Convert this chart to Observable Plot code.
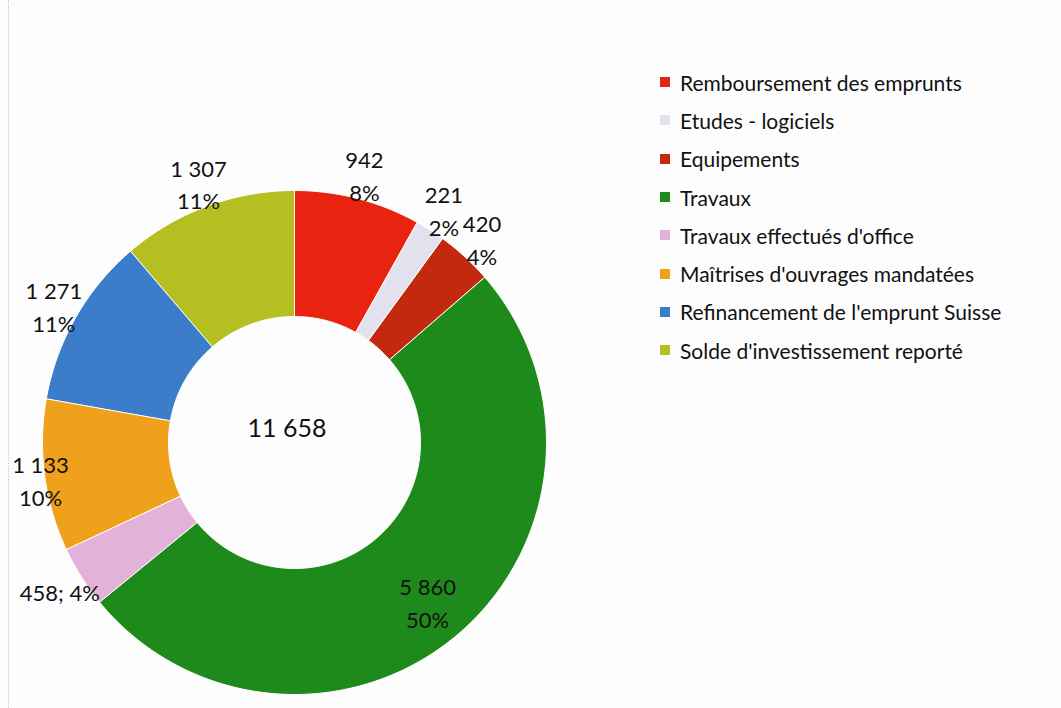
<!DOCTYPE html>
<html><head><meta charset="utf-8">
<script src="https://cdn.jsdelivr.net/npm/d3@7"></script>
<script src="https://cdn.jsdelivr.net/npm/@observablehq/plot@0.6"></script>
<style>
body{margin:0;background:#fff;}
#wrap{position:relative;width:1061px;height:708px;overflow:hidden;background:#fdfdfd;}
#edge{position:absolute;left:8px;top:0;width:0;height:708px;border-left:1px dotted #c8c8d0;}
#legend{position:absolute;left:660px;top:63px;font-family:Lato,sans-serif;font-size:21px;color:#111;}
#legend .row{display:flex;align-items:center;height:38.3px;}
#legend .sw{width:10px;height:10px;margin-right:10px;}
</style></head>
<body><div id="wrap"><div id="edge"></div><div id="legend"></div></div>
<script>
const categories = ["Remboursement des emprunts","Etudes - logiciels","Equipements","Travaux","Travaux effectués d'office","Maîtrises d'ouvrages mandatées","Refinancement de l'emprunt Suisse","Solde d'investissement reporté"];
const values = [942, 221, 420, 5860, 458, 1133, 1271, 1307];
const colors = ["#e8230f","#e3e1ee","#c2290f","#1f8a1c","#e2b2d8","#f0a11b","#3b7ccb","#b5bf22"];
const totalLabel = "11 658";
const inlineLabels = ["Travaux effectués d'office"];

const W = 1061, H = 708, cx = 294, cy = 442, R = 252, inner = 0.5, minLabelX = 40;
const total = d3.sum(values);
const fmt = v => d3.format(",")(v).replace(/,/g, " ");
const pie = d3.pie().sort(null).value(d => d.value)(categories.map((c, i) => ({name: c, value: values[i]})));

const pts = [];
for (const a of pie) {
  const n = Math.max(8, Math.ceil((a.endAngle - a.startAngle) * 60));
  for (let k = 0; k <= n; k++) { const t = a.startAngle + (a.endAngle - a.startAngle) * k / n; pts.push({name: a.data.name, x: Math.sin(t), y: Math.cos(t)}); }
  for (let k = n; k >= 0; k--) { const t = a.startAngle + (a.endAngle - a.startAngle) * k / n; pts.push({name: a.data.name, x: inner * Math.sin(t), y: inner * Math.cos(t)}); }
}
const labels = [];
for (const a of pie) {
  const share = a.data.value / total;
  const m = (a.startAngle + a.endAngle) / 2;
  const r = share > 0.3 ? 0.82 : 1.1;
  const pct = Math.round(share * 100) + "%";
  const txt = inlineLabels.includes(a.data.name) ? fmt(a.data.value) + "; " + pct : fmt(a.data.value) + "\n" + pct;
  labels.push({x: Math.max(r * Math.sin(m), (minLabelX - cx) / R), y: r * Math.cos(m), text: txt});
}

const chart = Plot.plot({
  width: W, height: H, margin: 0,
  x: {domain: [-cx / R, (W - cx) / R], axis: null},
  y: {domain: [-(H - cy) / R, cy / R], axis: null},
  color: {domain: categories, range: colors},
  style: {fontFamily: "Lato, sans-serif", background: "transparent"},
  marks: [
    Plot.line(pts, {x: "x", y: "y", z: "name", fill: "name", stroke: "#fff", strokeWidth: 1, curve: "linear-closed"}),
    Plot.text(labels, {x: "x", y: "y", text: "text", fontSize: 22, fill: "#111", lineHeight: 1.5}),
    Plot.text([totalLabel], {x: [-0.03], y: [0.055], text: d => d, fontSize: 25, fill: "#111"})
  ]
});
document.getElementById("wrap").append(chart);
chart.style.position = "absolute"; chart.style.left = "0"; chart.style.top = "0";

const lg = document.getElementById("legend");
categories.forEach((c, i) => {
  const row = document.createElement("div"); row.className = "row";
  const sw = document.createElement("div"); sw.className = "sw"; sw.style.background = colors[i];
  const t = document.createElement("span"); t.textContent = c;
  row.append(sw, t); lg.append(row);
});
</script></body></html>
